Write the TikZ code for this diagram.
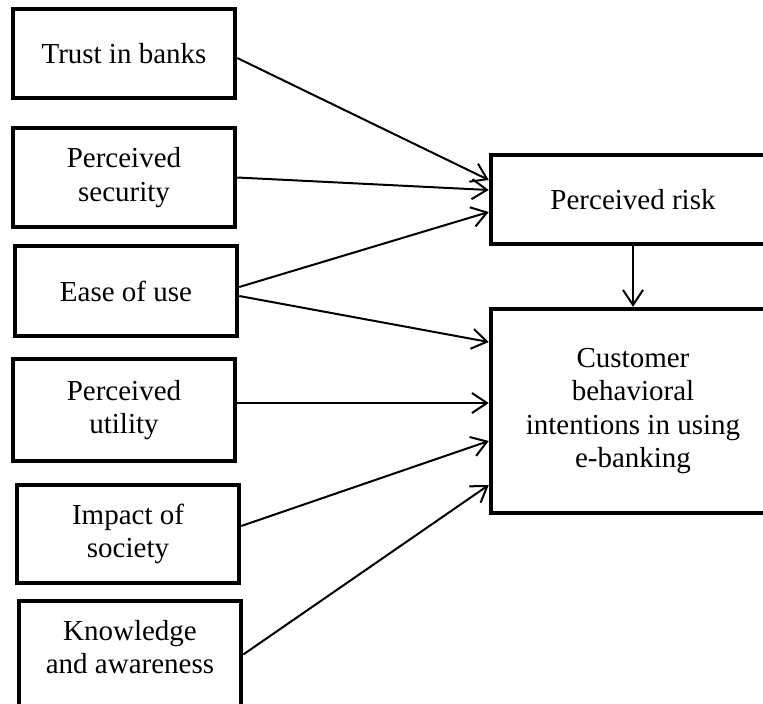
\documentclass[tikz,border=0pt]{standalone}
\usepackage{fontspec}
\setmainfont{Liberation Serif}
\usetikzlibrary{arrows.meta}
\begin{document}
\begin{tikzpicture}[x=1pt,y=-1pt,
  txt/.style={align=center,inner sep=0pt,font=\fontsize{29}{33.5}\selectfont},
  box/.style={txt,draw=black,line width=4.5pt,fill=white},
  conn/.style={line width=2pt,-{Straight Barb[length=15pt,width=20pt,line width=2pt]}}]
\useasboundingbox (0,0) rectangle (763,704);
\node[box,minimum width=222pt,minimum height=89pt] (trust) at (124,53.5) {Trust in banks};
\node[box,minimum width=222pt,minimum height=99pt] (sec) at (124,177.5) {Perceived\\security};
\node[box,minimum width=222pt,minimum height=90pt] (ease) at (126,291) {Ease of use};
\node[box,minimum width=222pt,minimum height=102pt] (util) at (124,410) {Perceived\\utility};
\node[box,minimum width=222pt,minimum height=98pt] (soc) at (128,534) {Impact of\\society};
\node[box,minimum width=222pt,minimum height=107pt] (know) at (130,654.5) {};
\node[txt] (knowtext) at (130,647) {Knowledge\\and awareness};
\node[box,minimum width=284pt,minimum height=89pt] (risk) at (633,199.5) {Perceived risk};
\node[box,minimum width=284pt,minimum height=204pt] (cust) at (633,411) {Customer\\behavioral\\intentions in using\\e-banking};
\draw[conn] ([yshift=-4.5pt]trust.east) -- ([yshift=19.5pt]risk.west);
\draw[conn] (sec.east) -- ([yshift=9.5pt]risk.west);
\draw[conn] ([yshift=4pt]ease.east) -- ([yshift=-12.5pt]risk.west);
\draw[conn] ([yshift=-5pt]ease.east) -- ([yshift=69pt]cust.west);
\draw[conn] ([yshift=7pt]util.east) -- ([yshift=8pt]cust.west);
\draw[conn] ([yshift=8pt]soc.east) -- ([yshift=-30pt]cust.west);
\draw[conn] (know.east) -- ([yshift=-74pt]cust.west);
\draw[conn] (risk.south) -- (cust.north);
\end{tikzpicture}
\end{document}
